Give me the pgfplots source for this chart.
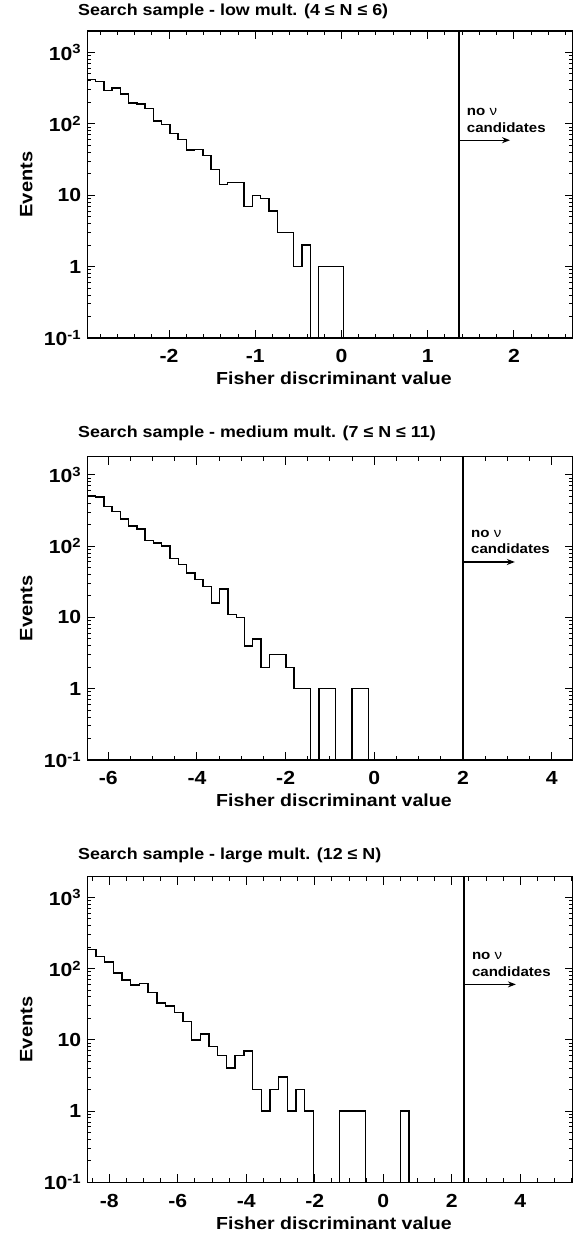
\documentclass[border=0pt]{standalone}
\usepackage{pgfplots}
\pgfplotsset{compat=1.18}
\usetikzlibrary{arrows.meta}
\usepackage{fontspec}
\setmainfont{Liberation Sans}[FakeStretch=1.12]

\pgfplotsset{
  fisheraxis/.style={
    scale only axis, anchor=south west, width=485.4bp,
    ymin=0.1,
    axis line style={line width=1.3bp},
    every tick/.style={black, line width=1bp},
    major tick length=8bp, minor tick length=4bp,
    xtick pos=both, ytick pos=both, tick align=inside,
    ytick={0.1,1,10,100,1000},
    yticklabels={10\textsuperscript{-1},1,10,10\textsuperscript{2},10\textsuperscript{3}},
    tick label style={font=\fontsize{19}{19}\selectfont\bfseries},
    yticklabel style={anchor=east, inner sep=0pt, xshift=-6bp},
    xticklabel style={anchor=base, inner sep=0pt, yshift=-25bp},
    xlabel={Fisher discriminant value},
    xlabel style={at={(axis description cs:0.508,-0.153)}, anchor=base, inner sep=0pt, font=\fontsize{17.5}{18}\selectfont\bfseries},
    ylabel={Events},
    ylabel style={at={(axis description cs:-0.1257,0.5)}, anchor=center, inner sep=0pt, font=\fontsize{18}{18}\selectfont\bfseries},
    title style={at={(axis description cs:0,1)}, anchor=base west, inner sep=0pt, xshift=-9.3bp, yshift=10bp, font=\fontsize{16}{16}\selectfont\bfseries},
  },
}
\tikzset{
  myann/.style={anchor=base west, inner sep=0pt, font=\fontsize{13.5}{14}\selectfont\bfseries},
}

\begin{document}
\begin{tikzpicture}
\path[use as bounding box] (0,0) rectangle (580bp,1239bp);

% ---------------- Panel 1 ----------------
\begin{semilogyaxis}[fisheraxis, at={(87.3bp,901bp)}, height=307bp,
  title={Search sample - low mult. (4 ≤ N ≤ 6)},
  xmin=-2.949, xmax=2.682, ymax=2000,
  xtick={-2,-1,0,1,2}, xticklabels={-2,-1,0,1,2},
  minor xtick={-2.8,-2.6,...,2.61}]
\addplot[const plot mark left, black, line width=1.4bp, mark=none] coordinates {
(-2.949,422) (-2.853,395) (-2.757,296) (-2.661,319) (-2.566,263)
(-2.470,197) (-2.374,190) (-2.278,164) (-2.183,110) (-2.087,97)
(-1.991,73) (-1.895,60) (-1.799,43) (-1.704,44) (-1.608,36)
(-1.512,23) (-1.416,14) (-1.320,15) (-1.225,15) (-1.129,7)
(-1.033,10) (-0.937,9) (-0.841,6) (-0.746,3) (-0.650,3)
(-0.554,1) (-0.458,2) (-0.362,0.1) (-0.267,1) (-0.171,1)
(-0.075,1) (0.021,0.1)};
\addplot[black, line width=2.2bp, mark=none] coordinates {(1.36,0.1) (1.36,2000)};
\addplot[black, line width=1.3bp, mark=none, -{Stealth[length=8bp,width=6bp]}] coordinates {(1.36,59) (1.955,59)};
\node[myann, xshift=8bp, yshift=8bp] at (axis cs:1.36,59) {candidates};
\node[myann, xshift=8bp, yshift=24.7bp] at (axis cs:1.36,59) {no {\mdseries ν}};
\end{semilogyaxis}

% ---------------- Panel 2 ----------------
\begin{semilogyaxis}[fisheraxis, at={(87.3bp,479bp)}, height=303.3bp,
  title={Search sample - medium mult. (7 ≤ N ≤ 11)},
  title style={yshift=3bp},
  xmin=-6.474, xmax=4.475, ymax=1800,
  xtick={-6,-4,-2,0,2,4}, xticklabels={-6,-4,-2,0,2,4},
  minor xtick={-6,-5.5,...,4.51}]
\addplot[const plot mark left, black, line width=1.4bp, mark=none] coordinates {
(-6.474,504) (-6.287,489) (-6.101,357) (-5.914,304) (-5.728,242)
(-5.541,193) (-5.354,175) (-5.168,119) (-4.981,111) (-4.795,101)
(-4.608,67) (-4.421,55) (-4.235,42) (-4.048,34) (-3.862,27)
(-3.675,16) (-3.488,25) (-3.302,11) (-3.115,10) (-2.929,4)
(-2.742,5) (-2.555,2) (-2.369,3) (-2.182,3) (-1.996,2)
(-1.809,1) (-1.622,1) (-1.436,0.1) (-1.249,1) (-1.063,1)
(-0.876,0.1) (-0.689,0.1) (-0.503,1) (-0.316,1) (-0.130,0.1)};
\addplot[black, line width=2.2bp, mark=none] coordinates {(2.0,0.1) (2.0,1800)};
\addplot[black, line width=1.3bp, mark=none, -{Stealth[length=8bp,width=6bp]}] coordinates {(2.0,60) (3.17,60)};
\node[myann, xshift=8bp, yshift=8bp] at (axis cs:2.0,60) {candidates};
\node[myann, xshift=8bp, yshift=24.7bp] at (axis cs:2.0,60) {no {\mdseries ν}};
\end{semilogyaxis}

% ---------------- Panel 3 ----------------
\begin{semilogyaxis}[fisheraxis, at={(87.3bp,56.7bp)}, height=305.6bp,
  title={Search sample - large mult. (12 ≤ N)},
  title style={yshift=1bp},
  xmin=-8.643, xmax=5.529, ymax=1950,
  xtick={-8,-6,-4,-2,0,2,4}, xticklabels={-8,-6,-4,-2,0,2,4},
  minor xtick={-8.5,-8,...,5.51}]
\addplot[const plot mark left, black, line width=1.4bp, mark=none] coordinates {
(-8.643,185) (-8.389,149) (-8.135,123) (-7.881,87) (-7.627,69)
(-7.373,59) (-7.119,62) (-6.865,46) (-6.611,33) (-6.357,30)
(-6.103,24) (-5.849,18) (-5.595,10) (-5.341,12) (-5.087,8)
(-4.833,6) (-4.579,4) (-4.325,6) (-4.071,7) (-3.817,2)
(-3.563,1) (-3.309,2) (-3.055,3) (-2.801,1) (-2.547,2)
(-2.293,1) (-2.039,0.1) (-1.785,0.1) (-1.531,0.1) (-1.277,1)
(-1.023,1) (-0.769,1) (-0.515,0.1) (-0.261,0.1) (-0.007,0.1)
(0.247,0.1) (0.501,1) (0.755,0.1) (1.009,0.1) (1.263,0.1) (1.517,0.1)};
\addplot[black, line width=2.2bp, mark=none] coordinates {(2.35,0.1) (2.35,1950)};
\addplot[black, line width=1.3bp, mark=none, -{Stealth[length=8bp,width=6bp]}] coordinates {(2.35,60) (3.87,60)};
\node[myann, xshift=8bp, yshift=8bp] at (axis cs:2.35,60) {candidates};
\node[myann, xshift=8bp, yshift=24.7bp] at (axis cs:2.35,60) {no {\mdseries ν}};
\end{semilogyaxis}
\end{tikzpicture}
\end{document}
